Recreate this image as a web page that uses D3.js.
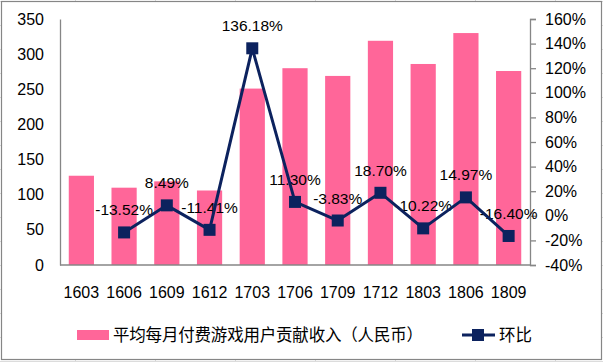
<!DOCTYPE html>
<html>
<head>
<meta charset="utf-8">
<script src="https://cdn.jsdelivr.net/npm/d3@7"></script>
<style>
  body { margin: 0; background: #fff; }
  svg { display: block; font-family: "Liberation Sans", Arial, sans-serif; }
</style>
</head>
<body>
<div id="chart"></div>
<script>
// data
const periods = ["1603", "1606", "1609", "1612", "1703", "1706", "1709", "1712", "1803", "1806", "1809"];
const revenue = [127, 110, 119, 106, 251, 280, 269, 319, 286, 330, 276];
const growth = [null, -13.52, 8.49, -11.41, 136.18, 11.30, -3.83, 18.70, -10.22, 14.97, -16.40];
const leftTicks = [0, 50, 100, 150, 200, 250, 300, 350];
const rightTicks = [-40, -20, 0, 20, 40, 60, 80, 100, 120, 140, 160];
const barName = "平均每月付费游戏用户贡献收入（人民币）";
const lineName = "环比";

const width = 603, height = 362;
const margin = { top: 19, right: 73, bottom: 97, left: 60 };
const pink = "#ff6699", navy = "#0c225e";

const svg = d3.select("#chart").append("svg")
    .attr("width", width)
    .attr("height", height);

// faint spreadsheet cells peeking round the chart frame
const sheet = svg.append("g").attr("stroke", "#dcdcdc").attr("stroke-width", 1);
d3.range(75, width, 80).forEach(x => {
    sheet.append("line").attr("x1", x + 0.5).attr("x2", x + 0.5).attr("y1", 0).attr("y2", height);
});
d3.range(1, height, 24).forEach(y => {
    sheet.append("line").attr("x1", 0).attr("x2", width).attr("y1", y + 0.5).attr("y2", y + 0.5);
});

svg.append("rect")
    .attr("x", 1.5).attr("y", 1.5)
    .attr("width", 600).attr("height", 358)
    .attr("fill", "#fff")
    .attr("stroke", "#868686")
    .attr("stroke-width", 1.2);

const x = d3.scaleBand()
    .domain(periods)
    .range([margin.left, width - margin.right])
    .paddingInner(0.41)
    .paddingOuter(0.205);

const yLeft = d3.scaleLinear()
    .domain([0, 350])
    .range([height - margin.bottom, margin.top]);

const yRight = d3.scaleLinear()
    .domain([-40, 160])
    .range([height - margin.bottom, margin.top]);

// bars
svg.append("g")
    .selectAll("rect")
    .data(periods)
    .join("rect")
    .attr("x", d => x(d))
    .attr("y", (d, i) => yLeft(revenue[i]))
    .attr("width", x.bandwidth())
    .attr("height", (d, i) => yLeft(0) - yLeft(revenue[i]))
    .attr("fill", pink);

// left axis
const leftAxis = svg.append("g")
    .attr("transform", `translate(${margin.left},0)`)
    .call(d3.axisLeft(yLeft).tickValues(leftTicks).tickSize(0).tickPadding(16));
leftAxis.select(".domain").attr("stroke", "#868686").attr("stroke-width", 1.3);
leftAxis.selectAll("text").attr("font-size", 16).attr("fill", "#000")
    .attr("font-family", "Liberation Sans, Arial, sans-serif");

// right axis
const rightAxis = svg.append("g")
    .attr("transform", `translate(${width - margin.right},0)`)
    .call(d3.axisRight(yRight).tickValues(rightTicks).tickSize(6).tickPadding(9).tickFormat(d => d + "%"));
rightAxis.selectAll(".domain, line").attr("stroke", "#868686").attr("stroke-width", 1.3);
rightAxis.selectAll("text").attr("font-size", 16).attr("fill", "#000")
    .attr("font-family", "Liberation Sans, Arial, sans-serif");

// bottom line of plot
svg.append("line")
    .attr("x1", margin.left).attr("x2", width - margin.right)
    .attr("y1", yLeft(0)).attr("y2", yLeft(0))
    .attr("stroke", "#868686").attr("stroke-width", 1.3);

// category labels
svg.append("g")
    .selectAll("text")
    .data(periods)
    .join("text")
    .attr("x", d => x(d) + x.bandwidth() / 2)
    .attr("y", 298)
    .attr("text-anchor", "middle")
    .attr("font-size", 16)
    .text(d => d);

const pts = periods.map((p, i) => ({ p, v: growth[i] })).filter(d => d.v !== null);
const cx = d => x(d.p) + x.bandwidth() / 2;

// data labels (line sits on top of them, as in the original)
svg.append("g")
    .selectAll("text")
    .data(pts)
    .join("text")
    .attr("x", cx)
    .attr("y", d => yRight(d.v) - 17)
    .attr("text-anchor", "middle")
    .attr("font-size", 15.5)
    .text(d => d.v.toFixed(2) + "%");

const line = d3.line().x(cx).y(d => yRight(d.v));

svg.append("path")
    .datum(pts)
    .attr("d", line)
    .attr("fill", "none")
    .attr("stroke", navy)
    .attr("stroke-width", 3)
    .attr("stroke-linejoin", "round");

svg.append("g")
    .selectAll("rect")
    .data(pts)
    .join("rect")
    .attr("x", d => cx(d) - 6)
    .attr("y", d => yRight(d.v) - 6)
    .attr("width", 12)
    .attr("height", 12)
    .attr("fill", navy);

// legend
const legend = svg.append("g");
legend.append("rect")
    .attr("x", 77).attr("y", 330)
    .attr("width", 32).attr("height", 10)
    .attr("fill", pink);
legend.append("text")
    .attr("x", 113).attr("y", 341)
    .attr("font-size", 16.5)
    .attr("textLength", 310)
    .attr("font-family", "Noto Sans CJK SC, sans-serif")
    .text(barName);
legend.append("line")
    .attr("x1", 462).attr("x2", 495)
    .attr("y1", 335).attr("y2", 335)
    .attr("stroke", navy).attr("stroke-width", 3);
legend.append("rect")
    .attr("x", 472).attr("y", 329)
    .attr("width", 12).attr("height", 12)
    .attr("fill", navy);
legend.append("text")
    .attr("x", 499).attr("y", 341)
    .attr("font-size", 16.5)
    .attr("font-family", "Noto Sans CJK SC, sans-serif")
    .text(lineName);
</script>
</body>
</html>
